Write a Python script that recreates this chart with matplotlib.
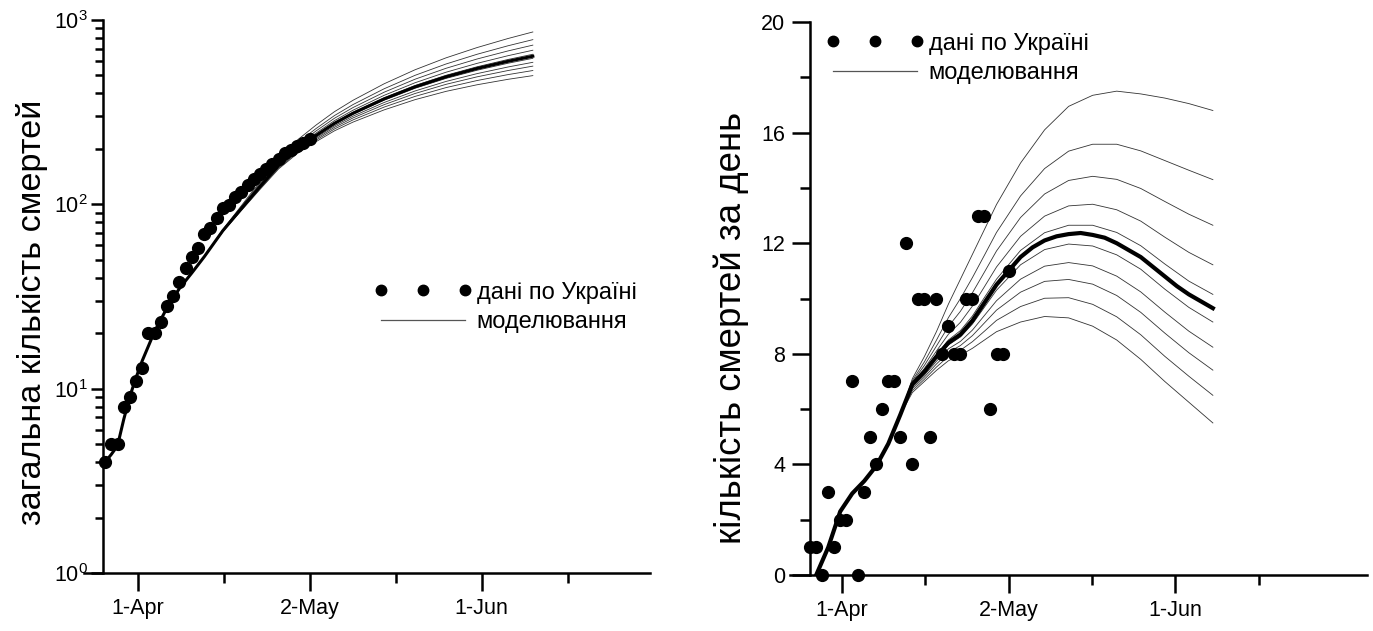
import numpy as np
import matplotlib
matplotlib.use('Agg')
import matplotlib.pyplot as plt
from matplotlib.lines import Line2D
from matplotlib.ticker import LogLocator, LogFormatterMathtext, NullFormatter

plt.rcParams['font.family'] = ['Liberation Sans', 'DejaVu Sans']
plt.rcParams['mathtext.default'] = 'regular'

# x axis: day index, 0 = first observation
obs_days = np.arange(34)
total_deaths = [4, 5, 5, 8, 9, 11, 13, 20, 20, 23, 28, 32, 38, 45, 52, 58, 69, 74, 84,
                95, 99, 110, 117, 127, 137, 146, 155, 165, 177, 191, 197, 207, 216, 225]
daily_deaths = [1, 1, 0, 3, 1, 2, 2, 7, 0, 3, 5, 4, 6, 7, 7, 5, 12, 4, 10, 10, 5, 10, 8,
                9, 8, 8, 10, 10, 13, 13, 6, 8, 8, 11]

tick_days = [5.3, 33.0, 60.75]
tick_labels = ['1-Apr', '2-May', '1-Jun']
minor_days = [19.15, 46.9, 74.6]

# cumulative model, main run
cum_fit_days = [0, 1, 2, 3, 4, 5, 6, 8, 10, 12, 14, 16, 19, 22, 25, 28, 31, 34, 37, 40,
                45, 50, 55, 60, 65, 69]
cum_fit = [4.0, 4.4, 4.9, 6.8, 9.1, 11.5, 14.2, 20.5, 27.5, 35, 42.5, 52, 72, 95,
           125, 163, 200, 236, 275, 312, 373, 434, 492, 546, 597, 636]

# cumulative model, other runs
cum_band_days = [16, 19, 22, 25, 28, 31, 34, 37, 40, 45, 50, 55, 60, 65, 69]
cum_band = [
    [52.1, 73.0, 98.5, 133.1, 178.0, 223.1, 268.7, 318.2, 367.0, 450.6, 537.1, 623.3, 708.6, 793.6, 861.2],
    [52.1, 72.6, 97.3, 130.3, 172.8, 215.0, 257.3, 303.1, 347.8, 423.4, 501.0, 577.3, 651.7, 724.8, 782.4],
    [52.0, 72.4, 96.5, 128.4, 169.3, 209.7, 249.7, 293.1, 335.1, 405.6, 477.3, 547.1, 614.3, 679.6, 730.6],
    [52.0, 72.2, 95.8, 126.8, 166.3, 205.1, 243.2, 284.5, 324.1, 390.1, 456.7, 520.9, 581.8, 640.3, 685.5],
    [52.0, 72.1, 95.3, 125.6, 164.1, 201.6, 238.3, 278.0, 315.9, 378.4, 441.2, 501.2, 557.4, 610.8, 651.8],
    [52.0, 71.9, 94.7, 124.5, 162.1, 198.6, 233.9, 272.1, 308.1, 367.3, 426.3, 482.2, 533.9, 582.6, 619.6],
    [52.0, 71.7, 94.2, 123.5, 160.6, 196.1, 230.1, 266.7, 300.9, 356.8, 412.1, 464.2, 511.8, 556.1, 589.5],
    [51.9, 71.5, 93.7, 122.7, 159.1, 193.8, 226.6, 261.8, 294.4, 347.2, 399.3, 447.8, 491.6, 532.0, 562.1],
    [51.9, 71.3, 93.2, 121.7, 157.5, 191.3, 222.7, 256.4, 287.2, 336.8, 385.1, 429.8, 469.5, 505.6, 532.0],
    [51.85, 71.05, 92.65, 120.65, 155.8, 188.5, 218.5, 250.5, 279.4, 325.3, 369.7, 410.1, 445.3, 476.7, 499.2],
]

# daily model, main run
daily_fit_days = list(range(1, 68, 2))
daily_fit = [0.0, 1.0, 2.3, 2.95, 3.4, 3.95, 4.75, 5.8, 6.9, 7.35, 7.9, 8.4, 8.7, 9.2, 9.85,
             10.5, 11.0, 11.5, 11.85, 12.1, 12.25, 12.33, 12.37, 12.3, 12.2, 12.0, 11.75,
             11.5, 11.15, 10.8, 10.45, 10.15, 9.9, 9.65]

# daily model, other runs
daily_band_days = [15, 17, 19, 21, 23, 25, 27, 29, 31, 35, 39, 43, 47, 51, 55, 59, 63, 67]
daily_band = [
    [5.8, 7.1, 7.9, 8.8, 9.8, 10.7, 11.6, 12.5, 13.4, 14.9, 16.1, 16.95, 17.35, 17.5, 17.4, 17.25, 17.05, 16.8],
    [5.8, 7.03, 7.71, 8.49, 9.31, 10.0, 10.76, 11.57, 12.39, 13.71, 14.7, 15.33, 15.58, 15.58, 15.34, 14.99, 14.64, 14.3],
    [5.8, 6.98, 7.58, 8.28, 8.99, 9.54, 10.21, 10.96, 11.72, 12.93, 13.78, 14.27, 14.42, 14.31, 13.98, 13.51, 13.05, 12.65],
    [5.8, 6.94, 7.47, 8.1, 8.71, 9.14, 9.73, 10.43, 11.14, 12.25, 12.98, 13.35, 13.41, 13.21, 12.8, 12.22, 11.67, 11.22],
    [5.8, 6.91, 7.39, 7.96, 8.5, 8.84, 9.37, 10.04, 10.7, 11.74, 12.38, 12.65, 12.65, 12.39, 11.91, 11.25, 10.63, 10.15],
    [5.8, 6.86, 7.31, 7.84, 8.32, 8.61, 9.08, 9.69, 10.3, 11.22, 11.77, 11.97, 11.9, 11.58, 11.06, 10.34, 9.68, 9.15],
    [5.8, 6.8, 7.23, 7.73, 8.18, 8.45, 8.86, 9.39, 9.92, 10.7, 11.17, 11.3, 11.18, 10.81, 10.24, 9.51, 8.82, 8.24],
    [5.8, 6.74, 7.16, 7.63, 8.05, 8.3, 8.66, 9.12, 9.58, 10.23, 10.62, 10.69, 10.52, 10.11, 9.5, 8.75, 8.04, 7.41],
    [5.8, 6.67, 7.08, 7.52, 7.91, 8.13, 8.44, 8.82, 9.21, 9.71, 10.01, 10.03, 9.79, 9.34, 8.69, 7.91, 7.19, 6.5],
    [5.8, 6.6, 7.0, 7.4, 7.75, 7.95, 8.2, 8.5, 8.8, 9.15, 9.35, 9.3, 9.0, 8.5, 7.8, 7.0, 6.25, 5.5],
]

legend_labels = ['дані по Україні', 'моделювання']


def style_axes(ax, spine_x):
    ax.spines['top'].set_visible(False)
    ax.spines['right'].set_visible(False)
    ax.spines['left'].set_position(('data', spine_x))
    for s in ['left', 'bottom']:
        ax.spines[s].set_linewidth(1.8)
    ax.set_xticks(tick_days)
    ax.set_xticklabels(tick_labels)
    ax.set_xticks(minor_days, minor=True)
    ax.tick_params(which='major', direction='out', length=13, width=1.8,
                   labelsize=15.5)
    ax.tick_params(which='minor', direction='out', length=7.2, width=1.8)
    ax.tick_params(axis='x', which='major', pad=5)
    ax.tick_params(axis='y', which='major', pad=5)


def add_legend(ax, anchor):
    h_data = Line2D([], [], ls='none', marker='o', color='k', ms=7.5)
    h_model = Line2D([], [], color='#555555', lw=0.9)
    ax.legend([h_data, h_model], legend_labels, loc='upper left',
              bbox_to_anchor=anchor, frameon=False, numpoints=3,
              handlelength=4.15, handletextpad=0.2, labelspacing=0.33,
              borderpad=0, borderaxespad=0, fontsize=17)


fig = plt.figure(figsize=(13.73, 6.31), dpi=100)

# left: total deaths, log scale
ax1 = fig.add_axes([0.0612, 0.0919, 0.4122, 0.8764])
for run in cum_band:
    ax1.plot(cum_band_days, run, color='#333333', lw=0.6)
ax1.plot(cum_fit_days, cum_fit, color='k', lw=2.2)
ax1.plot(obs_days, total_deaths, ls='none', marker='o', color='k', ms=8.5, clip_on=False)
ax1.set_yscale('log')
ax1.set_ylim(1, 1000)
ax1.set_xlim(-3.4, 87.9)
ax1.yaxis.set_major_locator(LogLocator(base=10, numticks=10))
ax1.yaxis.set_major_formatter(LogFormatterMathtext())
ax1.yaxis.set_minor_locator(LogLocator(base=10, subs=np.arange(2, 10), numticks=20))
ax1.yaxis.set_minor_formatter(NullFormatter())
style_axes(ax1, -0.34)
ax1.tick_params(axis='y', which='major', length=9, pad=2)
ax1.tick_params(axis='y', which='minor', length=6)
ax1.set_ylabel('загальна кількість смертей', fontsize=24.7)
ax1.yaxis.set_label_coords(-0.063, 0.472)
add_legend(ax1, (0.512, 0.527))

# right: deaths per day
ax2 = fig.add_axes([0.5752, 0.0887, 0.4205, 0.8764])
for run in daily_band:
    ax2.plot(daily_band_days, run, color='#333333', lw=0.6)
ax2.plot(daily_fit_days, daily_fit, color='k', lw=3.0)
ax2.plot(obs_days, daily_deaths, ls='none', marker='o', color='k', ms=8.5, clip_on=False)
ax2.set_ylim(0, 20)
ax2.set_xlim(-3.4, 92.66)
ax2.set_yticks([0, 4, 8, 12, 16, 20])
ax2.set_yticks([2, 6, 10, 14, 18], minor=True)
style_axes(ax2, 0.0)
ax2.set_ylabel('кількість смертей за день', fontsize=26.4)
ax2.yaxis.set_label_coords(-0.07, 0.447)
add_legend(ax2, (0.063, 0.981))

fig.savefig('out.png', dpi=100)
